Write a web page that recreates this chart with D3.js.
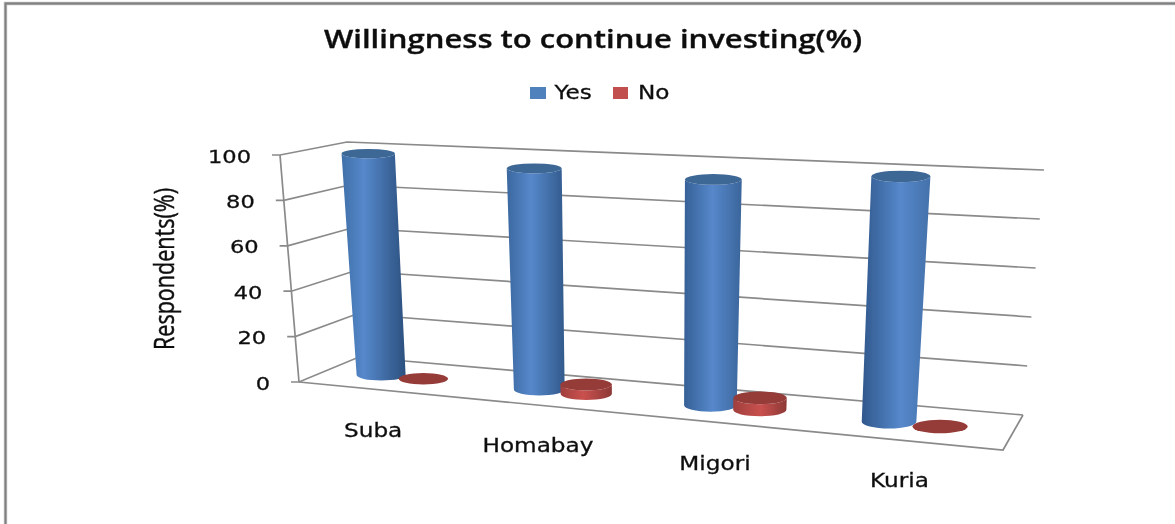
<!DOCTYPE html>
<html>
<head>
<meta charset="utf-8">
<script src="https://cdn.jsdelivr.net/npm/d3@7"></script>
<style>
html,body{margin:0;padding:0;background:#fff;overflow:hidden}
svg{display:block}
text{fill:#111;stroke:#111;stroke-width:0.3px;font-family:"DejaVu Sans",sans-serif}
</style>
</head>
<body>
<div id="chart"></div>
<script>
const categories = ["Suba","Homabay","Migori","Kuria"];
const yesValues = [99,96,95,100];
const noValues = [0,4,5,0];
const yTicks = [0,20,40,60,80,100];
const seriesNames = ["Yes","No"];
const titleText = "Willingness to continue investing(%)";
const yTitle = "Respondents(%)";

const W=1175,H=524;
const svg=d3.select("#chart").append("svg").attr("width",W).attr("height",H);
const defs=svg.append("defs");
defs.append("filter").attr("id","soft").attr("x","-5%").attr("y","-5%").attr("width","110%").attr("height","110%")
  .append("feGaussianBlur").attr("stdDeviation",0.5);

// box corners of the 3D plot
const floorFL=[299,382], floorBL=[359,357], floorBR=[1023,415], floorFR=[1003,450];
const topFL=[280,155], topBL=[347,142], topBR=[1044,170], topFR=[1018,194];
const L=(a,b)=>d3.interpolate(a,b);
const valueScale=d3.scaleLinear().domain([0,100]).range([0,1]);
function project(t,d,v){
  const k=valueScale(v);
  const front=L(L(floorFL,floorFR)(t),L(topFL,topFR)(t))(k);
  const back=L(L(floorBL,floorBR)(t),L(topBL,topBR)(t))(k);
  return L(front,back)(d);
}
// category axis is foreshortened towards the left
const slot=d3.scalePow().exponent(1.1).domain([0,4]).range([0,0.98]);
const barDepth=0.48;
const yesOffset=0.40,noOffset=0.68,labelOffset=0.52;
const wide=1.22;

const chart=svg.append("g").attr("filter","url(#soft)");

// outer frame
const frame=chart.append("g");
frame.append("path").attr("d",`M5.5 ${H}V3.5H${W}`).attr("fill","none").attr("stroke","#bdbdbd").attr("stroke-width",3.4);
frame.append("path").attr("d",`M5.5 ${H}V3.5H${W}`).attr("fill","none").attr("stroke","#7f7f7f").attr("stroke-width",1.8);

// grid
const grid=chart.append("g").attr("fill","none").attr("stroke","#8a8a8a").attr("stroke-width",1.7);
const lineGen=d3.line();
yTicks.forEach(v=>{
  const fl=project(0,0,v),bl=project(0,1,v),br=project(1,1,v);
  grid.append("path").attr("d",lineGen([[fl[0]-8,fl[1]],fl,bl,br]));
});
grid.append("path").attr("d",lineGen([project(0,0,0),project(0,0,100)]));
grid.append("path").attr("d",lineGen([project(0,0,0),project(1,0,0),project(1,1,0)]));

// y tick labels
chart.append("g").selectAll("text").data(yTicks).join("text")
  .attr("transform",v=>{const p=project(0,0,v);return `translate(${p[0]-29},${p[1]+7.5}) scale(${wide},1)`;})
  .attr("text-anchor","end").attr("font-size",18.5)
  .text(d=>d);

// cylinders
const rxScale=d3.scaleLinear().domain([0,1]).range([24.2,28]);
const ryScale=d3.scaleLinear().domain([0,1]).range([5.5,7]);
const hiOffset=d3.scaleLinear().domain([0,1]).range([0.33,0.62]);
const blueLeft=d3.scaleLinear().domain([0,1]).range(["#4272ab","#2c5285"]);
const blueRight=d3.scaleLinear().domain([0,1]).range(["#284c79","#4a79b5"]);
const redLeft=d3.scaleLinear().domain([0,1]).range(["#a03f3d","#a03f3d"]);
const redRight=d3.scaleLinear().domain([0,1]).range(["#8d3836","#8d3836"]);

function drawBar(layer,id,t,v,col){
  const base=project(t,barDepth,0), top=project(t,barDepth,v);
  const grow=valueScale(v)*2.2;
  const rb=rxScale(t), rt=rb+grow, ryb=ryScale(t), ryt=ryb-valueScale(v)*1;
  if(v===0){
    layer.append("ellipse").attr("cx",base[0]).attr("cy",base[1]).attr("rx",rb).attr("ry",ryb).attr("fill",col.top);
    return;
  }
  const g=defs.append("linearGradient").attr("id",id).attr("x1",0).attr("x2",1).attr("y1",0).attr("y2",0);
  g.append("stop").attr("offset",0).attr("stop-color",col.left(t));
  g.append("stop").attr("offset",hiOffset(t)).attr("stop-color",col.hi);
  g.append("stop").attr("offset",1).attr("stop-color",col.right(t));
  layer.append("path")
    .attr("d",`M${top[0]-rt} ${top[1]}L${base[0]-rb} ${base[1]}A${rb} ${ryb} 0 0 0 ${base[0]+rb} ${base[1]}L${top[0]+rt} ${top[1]}A${rt} ${ryt} 0 0 1 ${top[0]-rt} ${top[1]}Z`)
    .attr("fill",`url(#${id})`);
  layer.append("ellipse").attr("cx",top[0]).attr("cy",top[1]).attr("rx",rt).attr("ry",ryt).attr("fill",col.top);
}
const blue={left:blueLeft,right:blueRight,hi:"#5688cb",top:"#3c6796"};
const red={left:redLeft,right:redRight,hi:"#c9514e",top:"#953a38"};
const bars=chart.append("g");
categories.forEach((c,i)=>{
  drawBar(bars,"y"+i,slot(i+yesOffset),yesValues[i],blue);
  drawBar(bars,"n"+i,slot(i+noOffset),noValues[i],red);
});

// category labels
chart.append("g").selectAll("text").data(categories).join("text")
  .attr("transform",(d,i)=>{const p=project(slot(i+labelOffset),0,0);return `translate(${p[0]+1},${p[1]+47.5}) scale(${wide},1)`;})
  .attr("text-anchor","middle").attr("font-size",19)
  .text(d=>d);

// title
chart.append("text").attr("x",593).attr("y",48).attr("text-anchor","middle")
  .attr("font-size",25).attr("font-weight",600)
  .style("font-family",'"Open Sans",sans-serif').style("stroke-width","0.35px")
  .attr("textLength",538).attr("lengthAdjust","spacingAndGlyphs").text(titleText);

// legend
const legendColors=["#4f81bd","#c0504d"];
const legendScale=d3.scalePoint().domain(seriesNames).range([530,613]);
const leg=chart.append("g").selectAll("g").data(seriesNames).join("g")
  .attr("transform",d=>`translate(${legendScale(d)},87)`);
leg.append("rect").attr("width",(d,i)=>i?15:16).attr("height",12).attr("fill",(d,i)=>legendColors[i]);
leg.append("text").attr("transform",(d,i)=>`translate(${i?25:24.5},11.5) scale(${wide},1)`).attr("font-size",19).text(d=>d);

// y title
chart.append("text").attr("transform","translate(173.5,350) rotate(-90)")
  .attr("font-size",28).style("font-family",'"Open Sans",sans-serif').style("stroke-width","0.5px")
  .attr("textLength",162).attr("lengthAdjust","spacingAndGlyphs").text(yTitle);
</script>
</body>
</html>
